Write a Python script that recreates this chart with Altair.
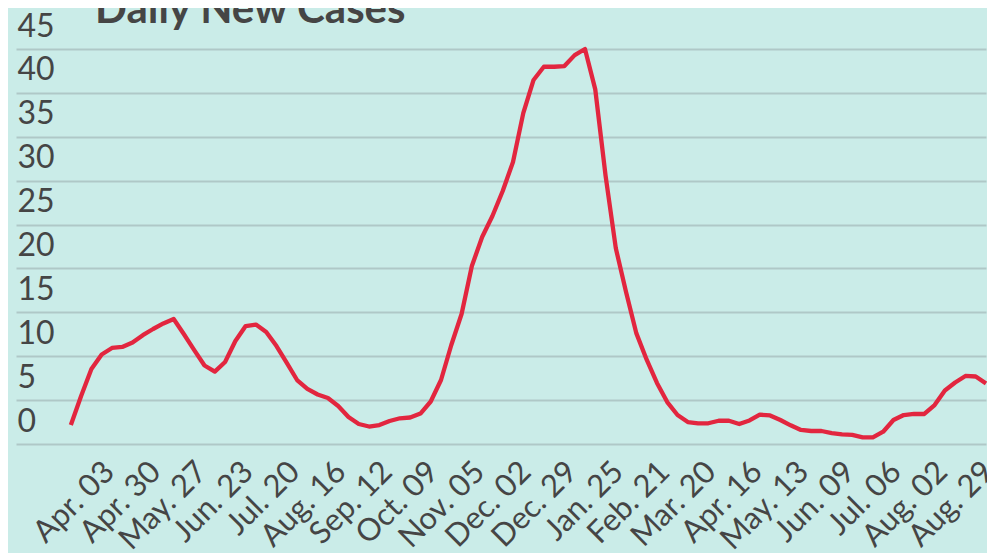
import altair as alt
import pandas as pd
import numpy as np

# ---- data ----
title_text = "Daily New Cases"
start_date = "2020-03-15"
step_days = 6
cases = [
    2.16, 5.47, 8.54, 10.2, 10.94, 11.06, 11.56, 12.4, 13.1, 13.73,
    14.24, 12.5, 10.7, 8.94, 8.24, 9.34, 11.73, 13.44, 13.6, 12.76,
    11.16, 9.23, 7.29, 6.27, 5.64, 5.24, 4.33, 3.08, 2.28, 1.99,
    2.16, 2.62, 2.93, 3.02, 3.47, 4.84, 7.29, 11.28, 14.81, 20.28,
    23.58, 25.97, 28.82, 32.13, 37.7, 41.47, 42.98, 42.98, 43.06, 44.3,
    45.0, 40.4, 30.6, 22.3, 17.3, 12.6, 9.6, 6.95, 4.78, 3.3,
    2.5, 2.36, 2.36, 2.65, 2.65, 2.28, 2.68, 3.34, 3.25, 2.73,
    2.13, 1.6, 1.48, 1.48, 1.25, 1.1, 1.03, 0.76, 0.76, 1.4,
    2.73, 3.3, 3.42, 3.42, 4.44, 6.09, 7.0, 7.75, 7.69, 6.89,
]
tick_start = "2020-04-03"
tick_step_days = 27
tick_count = 20
x_domain = ["2020-02-12", "2021-08-31"]
y_ticks = [0, 5, 10, 15, 20, 25, 30, 35, 40, 45]

MS_DAY = 86400000
def ms(d):
    return int(pd.Timestamp(d, tz="UTC").value // 1_000_000)

t0 = ms(start_date)
df = pd.DataFrame({
    "date": [t0 + i * step_days * MS_DAY for i in range(len(cases))],
    "cases": cases,
})
tick_vals = [ms(tick_start) + k * tick_step_days * MS_DAY for k in range(tick_count)]

BG = "#caece8"
GRID = "#afc8c7"
TEXT = "#454545"
RED = "#e2263f"
FONT = "Lato"

line = alt.Chart(df).mark_line(color=RED, strokeWidth=4.3, strokeJoin="round").encode(
    x=alt.X(
        "date:T",
        scale=alt.Scale(domain=[ms(x_domain[0]), ms(x_domain[1])], nice=False),
        axis=alt.Axis(
            values=tick_vals,
            labelExpr="utcFormat(datum.value, '%b. %d')",
            labelAngle=315,
            labelAlign="right",
            labelBaseline="middle",
            labelPadding=23,
            labelOffset=6,
            labelFontSize=31,
            labelFont=FONT,
            labelColor=TEXT,
            labelOverlap=False,
            labelFlush=False,
            grid=False,
            ticks=False,
            tickSize=0,
            domain=False,
            title=None,
        ),
    ),
    y=alt.Y(
        "cases:Q",
        scale=alt.Scale(domain=[0, 45], nice=False, zero=True),
        axis=alt.Axis(
            values=y_ticks,
            labelAlign="left",
            labelBaseline="middle",
            labelPadding=-1,
            labelOffset=-23,
            labelFontSize=32,
            labelFont=FONT,
            labelColor=TEXT,
            grid=True,
            gridColor=GRID,
            gridWidth=2.2,
            ticks=False,
            tickSize=0,
            domain=False,
            title=None,
        ),
    ),
)

title = alt.Chart(pd.DataFrame({"t": [title_text]})).mark_text(
    align="left", baseline="alphabetic", font=FONT, fontSize=42,
    fontWeight="bold", color=TEXT,
).encode(text="t:N", x=alt.value(79), y=alt.value(-26))

chart = alt.layer(line, title).properties(
    width=970,
    height=395,
    autosize=alt.AutoSizeParams(type="none"),
    padding={"left": 8, "top": 41, "right": 1, "bottom": 109},
).configure(background=BG).configure_view(stroke=None)

chart.save("out.html", embed_options={"renderer": "svg", "actions": False})
